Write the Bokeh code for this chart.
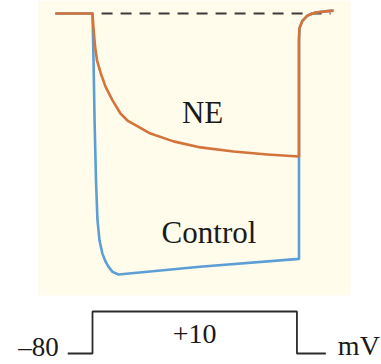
from bokeh.plotting import figure
from bokeh.models import Range1d, BoxAnnotation
from bokeh.core.properties import value
from bokeh.embed import file_html
from bokeh.resources import INLINE

# ---- data (time in ms, current in nA, voltage in mV) ----
ctrl_t = [-18, 0, 0.5, 1.0, 1.7, 2.4, 3.4, 4.8, 6.3, 7.7, 9.7, 12.6, 52, 100, 100,
          100, 100.2, 101.7, 104.1, 108.0, 112.8, 116.7]
ctrl_i = [0, 0, -0.18, -0.41, -0.64, -0.79, -0.87, -0.92, -0.95, -0.97, -0.99, -1.0,
          -0.97, -0.94, -0.548, -0.103, -0.057, -0.027, -0.008, 0.004, 0.008, 0.011]

ne_t = [-18, 0, 0.48, 1.21, 2.18, 3.87, 6.30, 9.69, 13.56, 16.95, 28.1, 39.2, 52.3,
        68.3, 84.7, 100, 100, 100.2, 101.7, 104.1, 108.0, 112.8, 116.7]
ne_i = [0, 0, -0.057, -0.123, -0.180, -0.226, -0.280, -0.333, -0.383, -0.410, -0.460,
        -0.490, -0.513, -0.529, -0.540, -0.548, -0.103, -0.057, -0.027, -0.008, 0.004,
        0.008, 0.011]

base_t = [4.4, 115.3]
base_i = [0.0, 0.0]

prot_t = [-12, 0, 0, 99, 99, 113]
prot_v = [-80, -80, 10, 10, -80, -80]

hold_mv = -80
step_mv = 10
labels_trace = ["NE", "Control"]
label_t = [53.3, 56.4]
label_i = [-0.379, -0.839]

FONT = value("Liberation Serif")

p = figure(width=381, height=364, output_backend="svg", toolbar_location=None,
           x_range=Range1d(-44.55, 139.95), y_range=Range1d(-1.3448, 0.0498),
           x_axis_location=None, y_axis_location=None, min_border=0,
           background_fill_color="white", border_fill_color="white")
p.outline_line_color = None
p.grid.visible = False
p.extra_y_ranges = {"v": Range1d(-103.6, 676.4)}

p.add_layout(BoxAnnotation(left=-26.2, right=124.9, bottom=-1.08,
                           fill_color="#FFFCEB", fill_alpha=1.0, line_color=None,
                           level="underlay"))

p.line(base_t, base_i, line_color="#3a3a3a", line_width=1.8, line_dash="11 8")
p.line(ctrl_t, ctrl_i, line_color="#5b9fd6", line_width=2.6, line_join="round")
p.line(ne_t, ne_i, line_color="#d4733a", line_width=2.6, line_join="round")

p.text(x=label_t, y=label_i, text=labels_trace, text_font=FONT,
       text_font_size="31px", text_align="center", text_baseline="alphabetic",
       text_color="#1a1a1a")

p.line(prot_t, prot_v, y_range_name="v", line_color="#2b2b2b", line_width=1.8)
p.text(x=[prot_t[0]], y=[hold_mv], text=["\u201380"], y_range_name="v",
       text_font=FONT, text_font_size="27px", text_align="right",
       text_baseline="alphabetic", x_offset=-9, y_offset=-6, text_color="#1a1a1a")
p.text(x=[(prot_t[2] + prot_t[3]) / 2], y=[step_mv], text=["+10"], y_range_name="v",
       text_font=FONT, text_font_size="28px", text_align="center",
       text_baseline="alphabetic", y_offset=23, text_color="#1a1a1a")
p.text(x=[prot_t[-1]], y=[hold_mv], text=["mV"], y_range_name="v",
       text_font=FONT, text_font_size="28px", text_align="left",
       text_baseline="alphabetic", x_offset=12, y_offset=-8, text_color="#1a1a1a")

open("out.html", "w").write(file_html(p, INLINE))
